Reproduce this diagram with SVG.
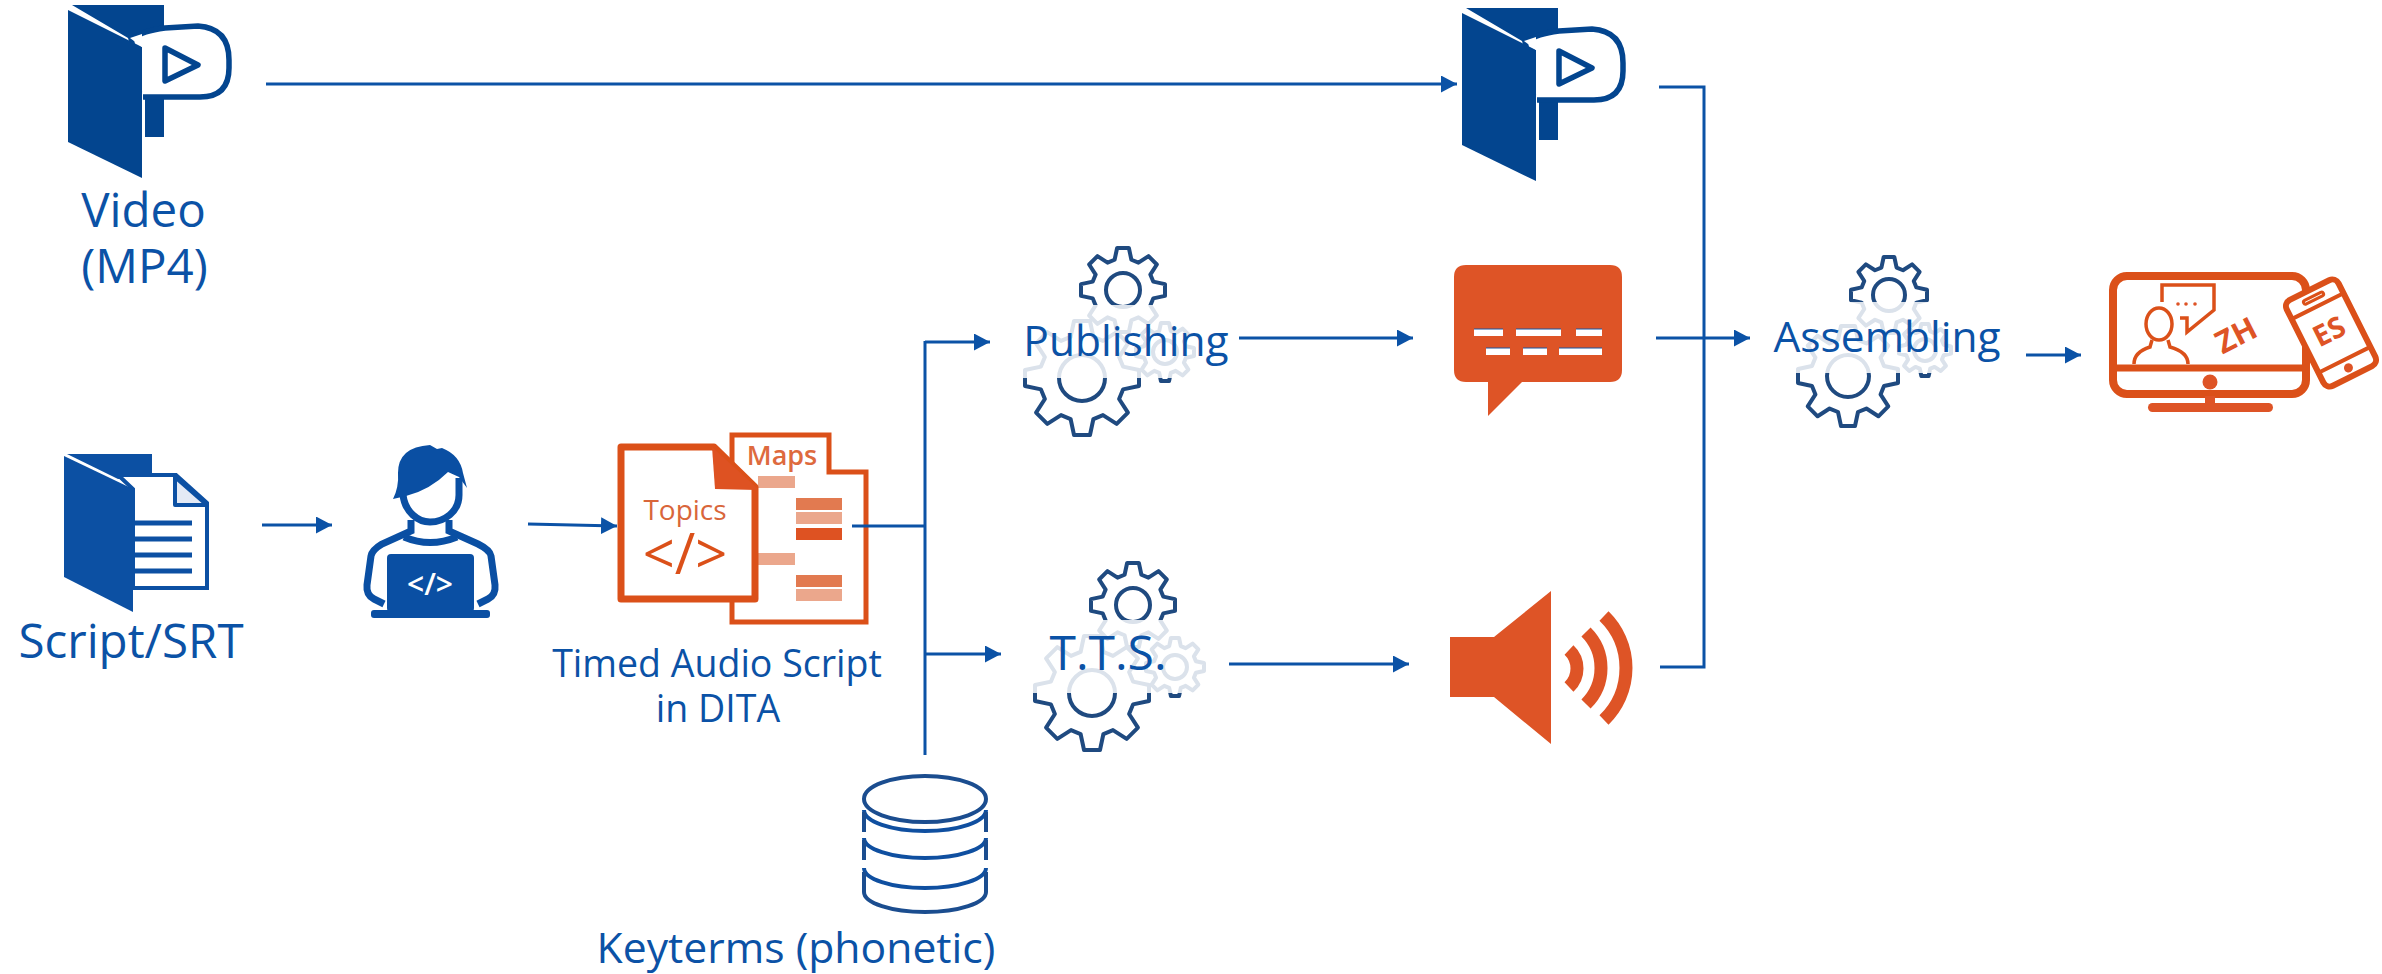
<svg xmlns="http://www.w3.org/2000/svg" xmlns:xlink="http://www.w3.org/1999/xlink" width="2382" height="974" viewBox="0 0 2382 974">
<style>
text{font-family:"Open Sans","Noto Sans","Liberation Sans",sans-serif;fill:#0B52A6;text-anchor:middle}
.l{font-size:47.500px}.m{font-size:37.500px}.n{font-size:43px}
.c{fill:none;stroke:#0B52A6;stroke-width:3}
.a{marker-end:url(#ah)}
.o{fill:#DE5426}
.os{fill:none;stroke:#DB5019}
.bar1{fill:#EBA78C}.bar2{fill:#E27A50}.bar3{fill:#DE5222}
.gear{fill:none;stroke:#1F4A80;stroke-width:4;stroke-linejoin:round;vector-effect:non-scaling-stroke}
.db{fill:none;stroke:#1B4D8F;stroke-width:4}
.db2{fill:none;stroke:#0F4FA0;stroke-width:4}
.w{fill:#fff}
.f{fill:#03458F}
.p{fill:none;stroke:#0A4FA3;stroke-width:7}
.pf{fill:#0A4FA3}
.s{fill:#0C50A3}
</style>
<defs>
<marker id="ah" markerUnits="userSpaceOnUse" markerWidth="16" markerHeight="17" refX="16" refY="8.5" orient="auto"><path d="M0,0L16,8.500L0,17Z" fill="#0B52A6"/></marker>
<polygon id="g" class="gear" points="-20,-72 -14,-100 14,-100 20,-72 36.800,-65.100 60.800,-80.600 80.600,-60.800 65.100,-36.800 72,-20 100,-14 100,14 72,20 65.100,36.800 80.600,60.800 60.800,80.600 36.800,65.100 20,72 14,100 -14,100 -20,72 -36.800,65.100 -60.800,80.600 -80.600,60.800 -65.100,36.800 -72,20 -100,14 -100,-14 -72,-20 -65.100,-36.800 -80.600,-60.800 -60.800,-80.600 -36.800,-65.100"/>
<g id="gears">
<g transform="translate(1123,290)"><use xlink:href="#g" href="#g" transform="scale(.42)"/><circle r="17" class="gear"/></g>
<g transform="translate(1165,352)"><use xlink:href="#g" href="#g" transform="scale(.29)"/><circle r="12" class="gear"/></g>
<g transform="translate(1082,378)"><use xlink:href="#g" href="#g" transform="scale(.57)"/><circle r="23" class="gear"/></g>
<rect x="1015" y="305" width="185" height="73" fill="#fff" opacity=".84"/>
</g>
<g id="videoIcon">
<polygon class="f" points="72,5 164,5 164,137 145,137 145,100 128,38"/>
<path d="M134,38Q142,31 165,28L198,26Q229,28 229,60L229,68Q229,97 200,97L143,97Z" fill="#fff"/>
<path d="M134,38Q142,31 165,28L198,26Q229,28 229,60L229,68Q229,97 200,97L143,97" fill="none" stroke="#03458F" stroke-width="5.500"/>
<polygon class="f" points="68,10 142,47 142,178 68,142"/>
<polygon class="w" points="130,38 142,34 142,47"/>
<path d="M165,48L198,65L165,81Z" fill="none" stroke="#03458F" stroke-width="5.500" stroke-linejoin="round"/>
</g>
</defs>
<rect width="2382" height="974" fill="#fff"/>

<g id="video-in"><use xlink:href="#videoIcon" href="#videoIcon"/>
<text class="l" x="143.500" y="227">Video</text><text class="l" x="144.500" y="283">(MP4)</text></g>

<g id="video-out"><use xlink:href="#videoIcon" href="#videoIcon" transform="translate(1394,3)"/></g>

<g id="script">
<polygon class="s" points="67,454 152,454 152,476 118,479"/>
<path d="M118,475H176L207,503V588H133V489Z" fill="#fff" stroke="#0C50A3" stroke-width="4"/>
<path d="M175,477V505H207Z" fill="#E4EAF5" stroke="#0C50A3" stroke-width="4" stroke-linejoin="round"/>
<path d="M133,523H192M133,539H192M133,555H192M133,571H192" stroke="#0C50A3" stroke-width="5" fill="none"/>
<polygon class="s" points="64,456 133,489 133,612 64,577"/>
<text class="l" x="131" y="658">Script/SRT</text>
</g>

<g id="author">
<path class="p" d="M403,495C405,512 418,522 430,522C444,522 459,512 459,495V478"/>
<path class="pf" d="M393,499Q399,487 398,473Q398,447 430,445L437,449L442,448Q460,455 463,473L467,488L459,477L448,472Q430,490 406,496Z"/>
<path class="p" d="M384,604L374,599Q366,595 367,585L371,556Q372,550 382,544L411,531V520M449,520V531L478,544Q490,550 491,556L495,585Q496,595 488,599L478,604"/>
<path class="p" d="M404,537Q430,548 457,537"/>
<rect class="pf" x="387" y="554" width="87" height="58" rx="4"/>
<rect class="pf" x="371" y="610" width="119" height="8" rx="3"/>
<text x="430" y="595" style="font-size:30px;font-weight:600;fill:#fff">&lt;/&gt;</text>
</g>

<g id="dita">
<path d="M732,435H829V472H866V622H732Z" stroke="#DB5019" stroke-width="5" fill="#fff"/>
<rect class="bar1" x="758" y="476" width="37" height="12"/>
<rect class="bar2" x="796" y="498" width="46" height="12"/><rect class="bar1" x="796" y="512" width="46" height="12"/><rect class="bar3" x="796" y="528" width="46" height="12"/>
<rect class="bar1" x="758" y="553" width="37" height="12"/>
<rect class="bar2" x="796" y="575" width="46" height="12"/><rect class="bar1" x="796" y="589" width="46" height="12"/>
<path d="M621,447H714L755,487V599H621Z" fill="#fff" stroke="#DB5019" stroke-width="7" stroke-linejoin="round"/>
<polygon class="bar3" points="712,447 757,488 757,490 715,489"/>
<text x="685" y="520" style="font-size:28px;fill:#D9663A">Topics</text>
<text x="685" y="574" style="font-size:56px;fill:#DB5019">&lt;/&gt;</text>
<text x="782" y="465" style="font-size:27px;fill:#DE6A3E;font-weight:600">Maps</text>
<text class="m" x="717" y="677">Timed Audio Script</text>
<text class="m" x="718" y="722">in DITA</text>
</g>

<g id="publishing"><use xlink:href="#gears" href="#gears"/><text x="1126" y="356" style="font-size:42.500px">Publishing</text></g>
<g id="tts"><use xlink:href="#gears" href="#gears" transform="translate(10,315)"/><text x="1108" y="670" style="font-size:48px">T.T.S.</text></g>
<g id="assembling">
<g transform="translate(1889,295)"><use xlink:href="#g" href="#g" transform="scale(.38)"/><circle r="16" class="gear"/></g>
<g transform="translate(1925,350)"><use xlink:href="#g" href="#g" transform="scale(.26)"/><circle r="11" class="gear"/></g>
<g transform="translate(1848,376)"><use xlink:href="#g" href="#g" transform="scale(.5)"/><circle r="21" class="gear"/></g>
<rect x="1790" y="302" width="170" height="71" fill="#fff" opacity=".84"/>
<text x="1887" y="352" style="font-size:42.500px">Assembling</text></g>

<g id="subtitle">
<path class="o" d="M1466,265H1610Q1622,265 1622,277V370Q1622,382 1610,382H1522L1488,416V382H1466Q1454,382 1454,370V277Q1454,265 1466,265Z"/>
<path class="w" d="M1474,329h29v7h-29zM1516,329h45v7h-45zM1576,329h26v7h-26zM1486,348h24v7h-24zM1523,348h24v7h-24zM1559,348h43v7h-43z"/>
<path d="M1474,329h29M1516,329h45M1576,329h26M1486,348h24M1523,348h24M1559,348h43" stroke="#1A55A0" stroke-width="1.200" fill="none"/>
</g>

<g id="audio">
<polygon class="o" points="1450,637 1494,637 1551,591 1551,744 1494,697 1450,697"/>
<path d="M1569,650A25.400,25.400 0 0 1 1569,687M1586,632A50.700,50.700 0 0 1 1586,704M1604,616A72.500,72.500 0 0 1 1604,720" fill="none" stroke="#DE5426" stroke-width="13"/>
</g>

<g id="keyterms">
<ellipse class="db" cx="925" cy="799" rx="61" ry="23"/>
<path class="db2" d="M864,810A61,21 0 0 0 986,810M864,838A61,20 0 0 0 986,838M864,868A61,20 0 0 0 986,868"/>
<path class="db" d="M864,812V832M986,812V832M864,840V860M986,840V860M864,872V892M986,872V892M864,892A61,20 0 0 0 986,892"/>
<text x="796" y="963" style="font-size:42.700px">Keyterms (phonetic)</text>
</g>

<g id="devices">
<rect x="2113" y="276" width="193" height="118" rx="14" class="os" stroke-width="8"/>
<path d="M2113,368H2306" class="os" stroke-width="7"/>
<circle cx="2210" cy="382" r="7.500" class="o"/>
<rect x="2205" y="396" width="10" height="12" class="o"/>
<rect x="2148" y="403" width="125" height="9" rx="4.500" class="o"/>
<path d="M2162,302V285H2214V310L2187,332V318H2180" class="os" stroke-width="3.500"/>
<circle cx="2178" cy="304" r="1.800" class="o"/><circle cx="2186" cy="304" r="1.800" class="o"/><circle cx="2195" cy="304" r="1.800" class="o"/>
<ellipse cx="2159" cy="324" rx="13" ry="16" class="os" stroke-width="3.500"/>
<path d="M2134,364Q2134,352 2150,347L2152,340M2168,340L2170,347Q2188,352 2188,364" class="os" stroke-width="3.500"/>
<text transform="translate(2241,345) rotate(-27)" style="font-size:31px;font-weight:700;fill:#DE5426">ZH</text>
<g transform="translate(2331,333) rotate(-26.600)">
<rect x="-29" y="-48" width="58" height="96" rx="7" fill="#fff" stroke="#DB5019" stroke-width="6"/>
<path d="M-29,-30H29M-29,30H29" class="os" stroke-width="4"/>
<rect x="-11" y="-41" width="22" height="4" rx="2" class="os" stroke-width="3"/>
<circle cy="39" r="4.500" class="o"/>
<text x="-1" y="8" style="font-size:29px;font-weight:700;fill:#DE5426">ES</text>
</g>
</g>

<g id="connectors">
<path class="c a" d="M266,84H1457"/>
<path class="c a" d="M262,525H332"/>
<path class="c a" d="M528,524L617,526"/>
<path class="c" d="M852,526H925M925,341V755"/>
<path class="c a" d="M925,342H990"/>
<path class="c a" d="M925,654H1001"/>
<path class="c a" d="M1239,338H1413"/>
<path class="c a" d="M1229,664H1409"/>
<path class="c" d="M1659,87H1704V667H1660"/>
<path class="c a" d="M1656,338H1750"/>
<path class="c a" d="M2026,355H2081"/>
</g>
</svg>
